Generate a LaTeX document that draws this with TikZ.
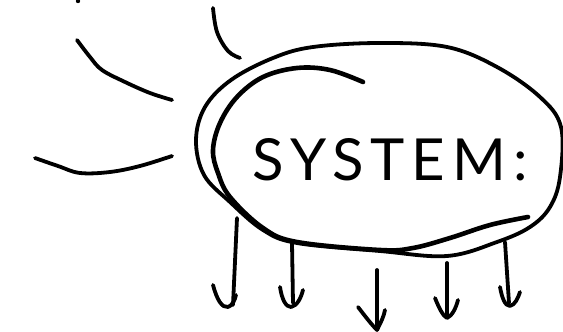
\documentclass[tikz,border=0pt]{standalone}
\usepackage{fontspec}
\newfontfamily\handfont[LetterSpace=12]{Lato}
\tikzset{
  sketch/.style={line width=3.8pt, line cap=round, line join=round, black},
  heavy/.style={line width=4.6pt, line cap=round, line join=round, black},
  arrowhead/.style={line width=3.8pt, line cap=round, line join=round, black},
}
\begin{document}
\begin{tikzpicture}[x=1pt,y=-1pt]
\useasboundingbox (0,0) rectangle (563,332);
% small dot at top
\fill (78,1) circle (2.2);
% input strokes
\draw[sketch] plot[smooth,tension=0.6] coordinates {(213,8) (217,32) (228,51) (240,58)};
\draw[sketch] plot[smooth,tension=0.6] coordinates {(77,40) (90,57) (102,70) (125,82) (150,93) (172,100)};
\draw[sketch] plot[smooth,tension=0.6] coordinates {(35,158) (58,166) (80,173) (110,172) (140,166) (172,156)};
% outer ellipse loop
\draw[sketch] plot[smooth cycle,tension=0.6] coordinates {(196,140) (205,107) (231,80) (273,58) (313,47) (380,43) (447,47) (497,67) (540,97) (561,127) (560,177) (550,207) (530,227) (497,242) (447,256) (380,251) (297,243) (263,230) (230,202) (204,175)};
% inner stroke
\draw[heavy] plot[smooth,tension=0.6] coordinates {(363,82) (330,70) (297,68) (263,77) (237,97) (220,123) (213,150) (218,173) (230,197) (263,228) (297,242) (380,250) (413,248) (450,238) (490,225) (528,217)};
% system label
\node[font=\handfont\fontsize{58}{58}\selectfont, inner sep=0pt] (sys) at (390,160) {SYSTEM:};
% output arrows
\coordinate (a1s) at (237,218); \coordinate (a1e) at (233,305);
\coordinate (a2s) at (292,243); \coordinate (a2e) at (293,303);
\coordinate (a3s) at (377,270); \coordinate (a3e) at (377,328);
\coordinate (a4s) at (447,263); \coordinate (a4e) at (447,316);
\coordinate (a5s) at (505,242); \coordinate (a5e) at (509,303);
\draw[sketch] (a1s) -- (a1e);
\draw[arrowhead] (213,285) .. controls (217,300) and (222,308) .. (228,307) .. controls (232,306) and (235,300) .. (236,295);
\draw[sketch] (a2s) -- (a2e);
\draw[arrowhead] (280,287) .. controls (282,300) and (286,307) .. (291,307) .. controls (297,306) and (301,298) .. (303,290);
\draw[sketch] (a3s) -- (a3e);
\draw[arrowhead] (358,307) .. controls (365,316) and (371,324) .. (377,330) .. controls (381,322) and (384,316) .. (385,310);
\draw[sketch] (a4s) -- (a4e);
\draw[arrowhead] (435,298) .. controls (439,308) and (443,316) .. (447,318) .. controls (452,316) and (456,308) .. (458,300);
\draw[sketch] (a5s) -- (a5e);
\draw[arrowhead] (500,287) .. controls (502,298) and (505,306) .. (510,306) .. controls (515,305) and (518,298) .. (520,292);
\end{tikzpicture}
\end{document}
